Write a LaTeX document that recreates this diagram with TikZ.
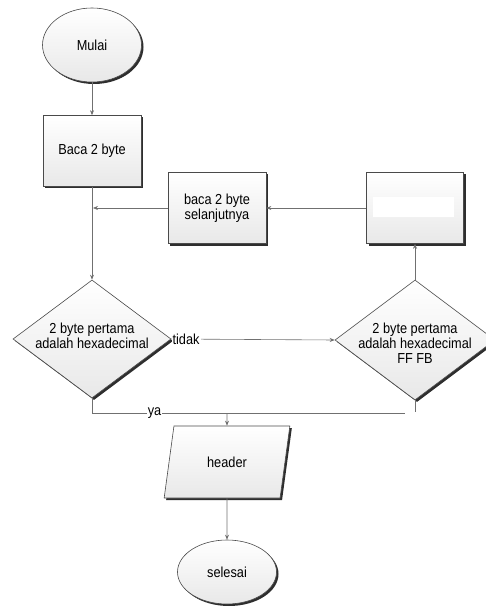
\documentclass[tikz,border=0pt]{standalone}
\usepackage{fontspec}
\setmainfont{Liberation Sans}[FakeStretch=0.88]
\usetikzlibrary{shapes.geometric,shadows,arrows.meta}
\definecolor{linec}{HTML}{707070}
\definecolor{bordc}{HTML}{4A4A4A}
\definecolor{shadc}{HTML}{2E2E2E}
\begin{document}
\begin{tikzpicture}[x=1pt,y=-1pt,
  font=\fontsize{14.5}{15}\selectfont,
  shp/.style={draw=bordc, line width=0.6pt, top color=white, bottom color=gray!18,
    drop shadow={shadow xshift=2pt, shadow yshift=-2pt, fill=shadc, opacity=1}, inner sep=0pt},
  termbox/.style={shp, ellipse, minimum width=99, minimum height=74},
  procbox/.style={shp, rectangle, minimum width=98, minimum height=71, align=center},
  decbox/.style={shp, diamond, minimum width=158, minimum height=118},
  iobox/.style={shp, trapezium, trapezium left angle=71, trapezium right angle=109,
    trapezium stretches=true, minimum width=126, minimum height=72},
  conn/.style={draw=linec, line width=0.6pt},
  arr/.style={conn, -{Stealth[length=5pt,width=4pt]}},
  lbl/.style={fill=white, inner sep=1pt}]
\useasboundingbox (0,0) rectangle (486,612);
\node[termbox] (mulai) at (92,45) {Mulai};
\node[procbox] (baca) at (92,151) {Baca 2 byte};
\node[procbox] (next) at (217,208) {baca 2 byte\\selanjutnya};
\node[procbox, minimum width=97] (rb) at (415,208) {};
\fill[white] (rb.center) ++(-42,-11) rectangle ++(81,20);
\node[decbox, label={[align=center, yshift=3pt]center:2 byte pertama\\adalah hexadecimal}] (d1) at (92,339) {};
\node[decbox, minimum width=160, minimum height=120, label={[align=center, yshift=-3pt]center:2 byte pertama\\adalah hexadecimal\\FF FB}] (d2) at (415,340) {};
\node[iobox] (hdr) at (227,462) {header};
\node[termbox, minimum height=64] (selesai) at (227,572) {selesai};
\coordinate (j) at (227,413);
\coordinate (e) at (405,413);
\draw[arr] (mulai) -- (baca);
\draw[arr] (baca.south) -- (d1.north);
\draw[arr] (next.west) -- ([xshift=1pt]baca.south |- next.west);
\draw[arr] (rb.west) -- (next.east);
\draw[arr] (d2.north) -- (rb.south);
\draw[arr] (d1.east) -- node[lbl, pos=0, anchor=west] {tidak} (d2.west);
\draw[conn] (d1.south) |- node[lbl, pos=0.6] {ya} (e);
\draw[conn] (d2.south) -- ++(0,12);
\draw[arr] (j) -- (hdr.north);
\draw[arr] (hdr) -- (selesai);
\end{tikzpicture}
\end{document}
